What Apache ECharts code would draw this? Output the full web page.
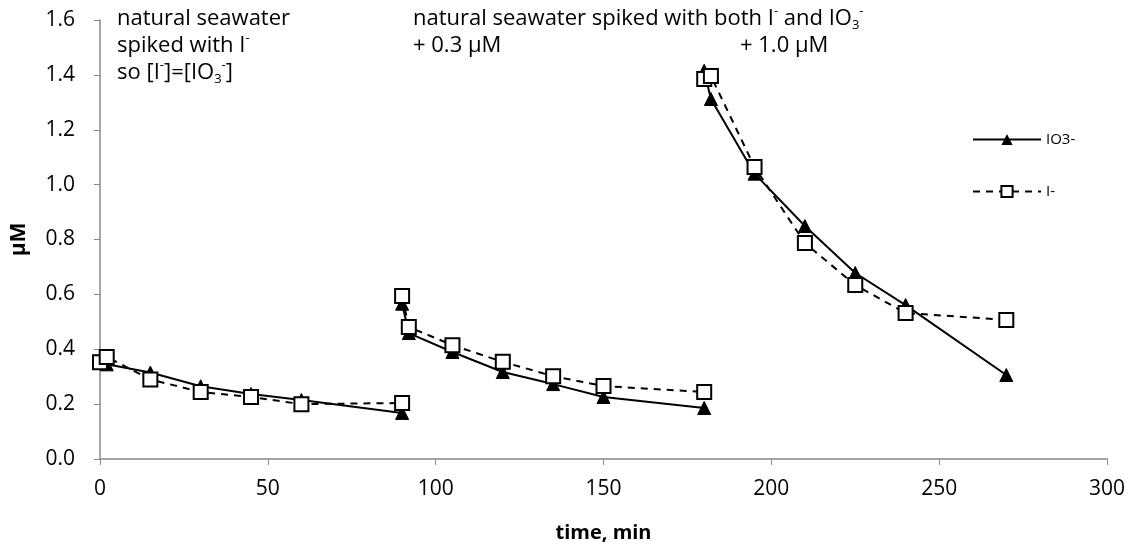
<!DOCTYPE html>
<html>
<head>
<meta charset="utf-8">
<script src="https://cdn.jsdelivr.net/npm/echarts@6/dist/echarts.min.js"></script>
<style>
  html, body { margin: 0; padding: 0; background: #fff; }
  #chart { width: 1137px; height: 548px; }
</style>
</head>
<body>
<div id="chart"></div>
<script>
// three spike experiments, times in min, concentrations in µM
const timesA = [0, 2, 15, 30, 45, 60, 90]
const io3A = [0.35, 0.345, 0.315, 0.265, 0.237, 0.215, 0.168]
const iodA = [0.353, 0.372, 0.29, 0.244, 0.226, 0.20, 0.204]

const timesB = [90, 92, 105, 120, 135, 150, 180]
const io3B = [0.566, 0.459, 0.39, 0.317, 0.273, 0.226, 0.186]
const iodB = [0.594, 0.481, 0.415, 0.354, 0.302, 0.266, 0.244]

const timesC = [180, 182, 195, 210, 225, 240, 270]
const io3C = [1.415, 1.312, 1.04, 0.849, 0.678, 0.561, 0.306]
const iodC = [1.385, 1.396, 1.064, 0.787, 0.634, 0.532, 0.507]

const xTicks = [0, 50, 100, 150, 200, 250, 300]
const yTicks = [0.0, 0.2, 0.4, 0.6, 0.8, 1.0, 1.2, 1.4, 1.6]

const FONT = 'Open Sans'

function pairs (xs, ys) {
  return xs.map((x, i) => [x, ys[i]])
}

function io3Series (xs, ys) {
  return {
    name: 'IO3-',
    type: 'line',
    data: pairs(xs, ys),
    symbol: 'triangle',
    symbolSize: 13,
    z: 2,
    itemStyle: { color: '#000', borderColor: '#000' },
    lineStyle: { color: '#000', width: 2, type: 'solid' }
  }
}

function iodSeries (xs, ys) {
  return {
    name: 'I-',
    type: 'line',
    data: pairs(xs, ys),
    symbol: 'rect',
    symbolSize: 14,
    z: 3,
    itemStyle: { color: '#fff', borderColor: '#000', borderWidth: 2 },
    lineStyle: { color: '#000', width: 2, type: [7, 6] }
  }
}

const myChart = echarts.init(document.getElementById('chart'))

const textRich = {
  sup: { fontSize: 13, fontFamily: FONT, verticalAlign: 'top', fill: '#000', lineHeight: 27 },
  sub: { fontSize: 13, fontFamily: FONT, verticalAlign: 'bottom', fill: '#000', lineHeight: 22 }
}

const option = {
  animation: false,
  backgroundColor: '#fff',
  textStyle: { fontFamily: FONT },
  grid: { left: 100, right: 30, top: 20, bottom: 89, outerBoundsMode: 'none', containLabel: false },
  legend: {
    orient: 'vertical',
    left: 972,
    top: 132,
    padding: 0,
    itemWidth: 68,
    itemHeight: 14,
    itemGap: 37,
    data: ['IO3-', 'I-'],
    textStyle: { fontFamily: FONT, fontSize: 15, color: '#000' }
  },
  xAxis: {
    type: 'value',
    min: 0,
    max: 300,
    interval: 50,
    name: 'time, min',
    nameLocation: 'middle',
    nameGap: 64,
    nameTextStyle: { fontFamily: FONT, fontSize: 20, fontWeight: 'bold', color: '#000' },
    axisLine: { show: true, lineStyle: { color: '#888', width: 1.5 } },
    axisTick: { show: true, inside: false, length: 6, lineStyle: { color: '#888' } },
    axisLabel: {
      fontFamily: FONT, fontSize: 21, color: '#000', margin: 20,
      formatter: v => (xTicks.indexOf(v) >= 0 ? String(v) : '')
    },
    splitLine: { show: false }
  },
  yAxis: {
    type: 'value',
    min: 0,
    max: 1.6,
    interval: 0.2,
    name: 'μM',
    nameLocation: 'middle',
    nameGap: 70,
    nameRotate: 90,
    nameTextStyle: { fontFamily: FONT, fontSize: 21, fontWeight: 'bold', color: '#000' },
    axisLine: { show: true, lineStyle: { color: '#888', width: 1.5 } },
    axisTick: { show: true, inside: false, length: 6, lineStyle: { color: '#888' } },
    axisLabel: {
      fontFamily: FONT, fontSize: 21, color: '#000', margin: 25,
      formatter: v => yTicks.find(t => Math.abs(t - v) < 1e-6).toFixed(1)
    },
    splitLine: { show: false }
  },
  series: [
    io3Series(timesA, io3A),
    io3Series(timesB, io3B),
    io3Series(timesC, io3C),
    iodSeries(timesA, iodA),
    iodSeries(timesB, iodB),
    iodSeries(timesC, iodC)
  ],
  graphic: [
    {
      type: 'text',
      left: 117,
      top: 5,
      style: {
        text: 'natural seawater\nspiked with I{sup|-}\nso [I{sup|-}]=[IO{sub|3}{sup|-}]',
        fontFamily: FONT,
        fontSize: 22,
        lineHeight: 27,
        fill: '#000',
        rich: textRich
      }
    },
    {
      type: 'text',
      left: 413,
      top: 5,
      style: {
        text: 'natural seawater spiked with both I{sup|-} and IO{sub|3}{sup|-}\n+ 0.3 μM',
        fontFamily: FONT,
        fontSize: 22,
        lineHeight: 27,
        fill: '#000',
        rich: textRich
      }
    },
    {
      type: 'text',
      left: 740,
      top: 32,
      style: {
        text: '+ 1.0 μM',
        fontFamily: FONT,
        fontSize: 22,
        lineHeight: 27,
        fill: '#000'
      }
    }
  ]
}

myChart.setOption(option)
</script>
</body>
</html>
